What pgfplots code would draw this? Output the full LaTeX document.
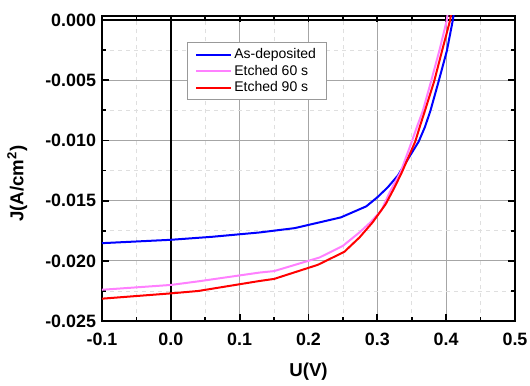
\documentclass[border=0pt]{standalone}
\usepackage{pgfplots}
\pgfplotsset{compat=1.18}
\usepackage{fontspec}
\setmainfont{Liberation Sans}
\definecolor{pinkc}{RGB}{255,128,255}
\begin{document}
\begin{tikzpicture}
\useasboundingbox (-76.5pt,-48pt) rectangle (321pt,240.8pt);
\begin{axis}[
  scale only axis,
  width=309.75pt, height=229pt,
  xmin=-0.1, xmax=0.5,
  ymin=-0.025, ymax=0.00036,
  xtick={-0.1,0,0.1,0.2,0.3,0.4,0.5},
  ytick={-0.025,-0.02,-0.015,-0.01,-0.005,0},
  minor x tick num=1, minor y tick num=1,
  tick align=inside,
  xtick pos=both, ytick pos=both,
  xticklabel pos=lower, yticklabel pos=left,
  major tick length=5pt, minor tick length=3pt,
  every tick/.style={black, line width=1.3pt},
  axis line style={line width=1.8pt},
  grid=both,
  major grid style={gray!70, line width=0.6pt},
  minor grid style={gray!25, dashed, line width=0.5pt},
  scaled y ticks=false, scaled x ticks=false,
  /pgf/number format/assume math mode=true,
  xticklabel style={/pgf/number format/fixed, /pgf/number format/fixed zerofill, /pgf/number format/precision=1, yshift=-5.5pt},
  yticklabel style={/pgf/number format/fixed, /pgf/number format/fixed zerofill, /pgf/number format/precision=3, xshift=-1pt},
  tick label style={font=\fontsize{13.4}{15}\selectfont\bfseries},
  xlabel={U(V)}, ylabel={J(A/cm\textsuperscript{2})},
  every axis x label/.style={at={(axis description cs:0.5,-0.165)}, anchor=center, font=\fontsize{14}{16}\selectfont\bfseries},
  every axis y label/.style={at={(axis description cs:-0.205,0.45)}, rotate=90, anchor=center, font=\fontsize{14}{16}\selectfont\bfseries},
  legend style={at={(axis description cs:0.206,0.913)}, anchor=north west,
    draw=gray!80, line width=0.6pt, fill=white,
    font=\fontsize{10.5}{12}\selectfont, row sep=-0.8pt,
    inner xsep=6pt, inner ysep=2.5pt},
  legend cell align=left,
  legend image code/.code={\draw[#1, line width=1.5pt] (0cm,0cm) -- (0.9cm,0cm);},
  clip=true,
]
\addplot[forget plot, black, line width=1.6pt] coordinates {(0,-0.025) (0,0.00036)};
\addplot[forget plot, black, line width=1.8pt] coordinates {(-0.1,0) (0.5,0)};
\addplot[blue, line width=1.5pt, line join=round] coordinates {
(-0.1,-0.01853) (0.0,-0.01825) (0.06,-0.01800) (0.129,-0.01764) (0.18,-0.01728)
(0.247,-0.01639) (0.284,-0.01547) (0.300,-0.01472) (0.315,-0.0139) (0.330,-0.0129)
(0.345,-0.0115) (0.360,-0.0101) (0.369,-0.0089) (0.377,-0.00756) (0.389,-0.0051) (0.401,-0.00256) (0.4097,0) (0.411,0.0005)};
\addlegendentry{As-deposited}
\addplot[pinkc, line width=1.5pt, line join=round] coordinates {
(-0.1,-0.0224) (0.0,-0.0220) (0.04,-0.0217) (0.129,-0.02097) (0.15,-0.02085)
(0.216,-0.01972) (0.250,-0.01875) (0.274,-0.01764) (0.290,-0.0168) (0.306,-0.0158) (0.318,-0.0143)
(0.334,-0.0126) (0.350,-0.0101) (0.358,-0.0088) (0.366,-0.00756) (0.378,-0.0051) (0.390,-0.00256) (0.401,0) (0.402,0.0005)};
\addlegendentry{Etched 60 s}
\addplot[red, line width=1.5pt, line join=round] coordinates {
(-0.1,-0.02314) (0.0,-0.0227) (0.04,-0.0225) (0.129,-0.02167) (0.15,-0.0215)
(0.2135,-0.02033) (0.252,-0.01925) (0.274,-0.01806) (0.293,-0.01681) (0.312,-0.0153)
(0.325,-0.0139) (0.336,-0.0126) (0.355,-0.0101) (0.362,-0.0088) (0.369,-0.00756) (0.3825,-0.0051) (0.394,-0.00256) (0.4058,0) (0.407,0.0005)};
\addlegendentry{Etched 90 s}
\end{axis}
\end{tikzpicture}
\end{document}
